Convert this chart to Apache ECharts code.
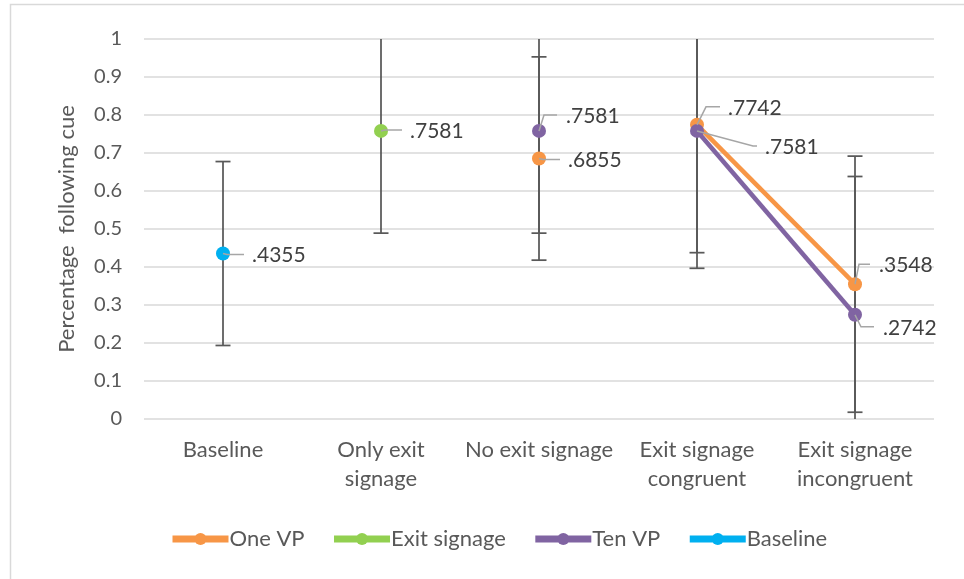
<!DOCTYPE html>
<html><head><meta charset="utf-8">
<script src="https://cdn.jsdelivr.net/npm/echarts@6/dist/echarts.min.js"></script>
<style>html,body{margin:0;padding:0;background:#fff}#c{width:964px;height:579px}</style>
</head><body><div id="c"></div>
<script>
const categories = ['Baseline', 'Only exit\nsignage', 'No exit signage', 'Exit signage\ncongruent', 'Exit signage\nincongruent'];
const oneVP      = [null, null, 0.6855, 0.7742, 0.3548];
const exitSign   = [null, 0.7581, null, null, null];
const tenVP      = [null, null, 0.7581, 0.7581, 0.2742];
const baseline   = [0.4355, null, null, null, null];
const errOneVP    = [null, null, 0.2675, 0.3776, 0.337];
const errExitSign = [null, 0.269, null, null, null];
const errTenVP    = [null, null, 0.269, 0.3204, 0.364];
const errBaseline = [0.242, null, null, null, null];
const yTicks = [0, 0.1, 0.2, 0.3, 0.4, 0.5, 0.6, 0.7, 0.8, 0.9, 1];
// the connected (line) part of the chart starts at this category index
const connectedFrom = 3;

const FONT = 'Lato';
const TXT = '#595959';
const colors = {oneVP:'#F79646', exitSign:'#92D050', tenVP:'#8064A2', baseline:'#00B0F0'};

// label leader styling (offsets in px): [elbowDx, elbowDy, endDx, textDx]
const labelStyle = {
  oneVP:    [[0,0,0,0],[0,0,0,0],[0,1,21,29],[9,-18,23,31],[4,-20,15,24]],
  exitSign: [[0,0,0,0],[0,-1,21,29],[0,0,0,0],[0,0,0,0],[0,0,0,0]],
  tenVP:    [[0,0,0,0],[0,0,0,0],[5,-16,18,27],[56,15,60,68],[6,12,19,28]],
  baseline: [[0,1,21,29],[0,0,0,0],[0,0,0,0],[0,0,0,0],[0,0,0,0]]
};

function fmt(v){ return v.toFixed(4).replace(/^0/, ''); }

const errData = [];
[[oneVP,errOneVP],[exitSign,errExitSign],[tenVP,errTenVP],[baseline,errBaseline]].forEach(([vals, errs]) => {
  vals.forEach((v, i) => { if (v != null && errs[i] != null) errData.push([i, v, errs[i]]); });
});

const labData = [];
[['oneVP',oneVP],['exitSign',exitSign],['tenVP',tenVP],['baseline',baseline]].forEach(([k, vals]) => {
  vals.forEach((v, i) => { if (v != null) labData.push([i, v, k]); });
});

function lineSeries(name, vals, color) {
  const common = {
    name, type: 'line', z: 3,
    symbol: 'circle', symbolSize: 14, showSymbol: true,
    lineStyle: {color, width: 4.5}, itemStyle: {color},
    connectNulls: false, animation: false
  };
  return [
    Object.assign({}, common, {data: vals.map((v, i) => i < connectedFrom ? v : null)}),
    Object.assign({}, common, {data: vals.map((v, i) => i >= connectedFrom ? v : null)})
  ];
}

const chart = echarts.init(document.getElementById('c'), null, {renderer: 'canvas'});
chart.setOption({
  animation: false,
  textStyle: {fontFamily: FONT},
  graphic: [{type: 'rect', shape: {x: 10.5, y: 4.5, width: 1200, height: 1000}, style: {fill: 'none', stroke: '#D9D9D9', lineWidth: 1.5}, z: -1}],
  grid: {left: 144, right: 30, top: 39, bottom: 160, containLabel: false},
  legend: {
    left: 164, top: 523, itemWidth: 56, itemHeight: 15, itemGap: 26,
    data: ['One VP', 'Exit signage', 'Ten VP', 'Baseline'],
    lineStyle: {width: 7},
    textStyle: {color: TXT, fontSize: 22, fontFamily: FONT, padding: [0,0,0,-4]}
  },
  xAxis: {
    type: 'category', data: categories, boundaryGap: true,
    axisLine: {show: false}, axisTick: {show: false},
    axisLabel: {color: TXT, fontSize: 22, lineHeight: 29, margin: 16, interval: 0, fontFamily: FONT}
  },
  yAxis: {
    type: 'value', min: 0, max: 1, interval: 0.1,
    name: 'Percentage  following cue', nameLocation: 'middle', nameGap: 66, nameRotate: 90,
    nameTextStyle: {color: TXT, fontSize: 22, fontFamily: FONT},
    axisLine: {show: false}, axisTick: {show: false},
    axisLabel: {color: TXT, fontSize: 20, margin: 22, fontFamily: FONT,
      formatter: v => { const t = yTicks.find(x => Math.abs(x - v) < 1e-9); return t === undefined ? '' : String(t); }},
    splitLine: {lineStyle: {color: '#D9D9D9', width: 1.5}}
  },
  series: [
    {
      type: 'custom', name: 'err', z: 1, silent: true, clip: false,
      data: errData,
      renderItem: (params, api) => {
        const i = api.value(0), v = api.value(1), e = api.value(2);
        const hiV = v + e, loV = v - e;
        const top = api.coord([i, Math.min(hiV, 1)]);
        const bot = api.coord([i, Math.max(loV, 0)]);
        const children = [{type: 'line', shape: {x1: top[0], y1: top[1], x2: bot[0], y2: bot[1]}, style: {stroke: '#595959', lineWidth: 1.75}}];
        const cw = 7.5;
        if (hiV <= 1) children.push({type: 'line', shape: {x1: top[0]-cw, y1: top[1], x2: top[0]+cw, y2: top[1]}, style: {stroke: '#595959', lineWidth: 1.75}});
        if (loV >= 0) children.push({type: 'line', shape: {x1: bot[0]-cw, y1: bot[1], x2: bot[0]+cw, y2: bot[1]}, style: {stroke: '#595959', lineWidth: 1.75}});
        return {type: 'group', children};
      }
    },
    ...lineSeries('One VP', oneVP, colors.oneVP),
    ...lineSeries('Exit signage', exitSign, colors.exitSign),
    ...lineSeries('Ten VP', tenVP, colors.tenVP),
    ...lineSeries('Baseline', baseline, colors.baseline),
    {
      type: 'custom', name: 'labels', z: 5, silent: true, clip: false,
      data: labData.map(d => [d[0], d[1]]),
      renderItem: (params, api) => {
        const d = labData[params.dataIndex];
        const p = api.coord([d[0], d[1]]);
        const s = labelStyle[d[2]][d[0]];
        const ex = p[0] + s[0] + (s[0] === 0 ? 4 : 0), ey = p[1] + s[1];
        const endX = p[0] + s[2], tx = p[0] + s[3];
        return {type: 'group', children: [
          {type: 'polyline', shape: {points: [[p[0], p[1]], [ex, ey], [endX, ey]]}, style: {stroke: '#A6A6A6', lineWidth: 1.5, fill: null}},
          {type: 'text', style: {x: tx, y: ey + 1, text: fmt(d[1]), fill: '#404040', font: '21px ' + FONT, textVerticalAlign: 'middle', textAlign: 'left'}}
        ]};
      }
    }
  ]
});
</script></body></html>
